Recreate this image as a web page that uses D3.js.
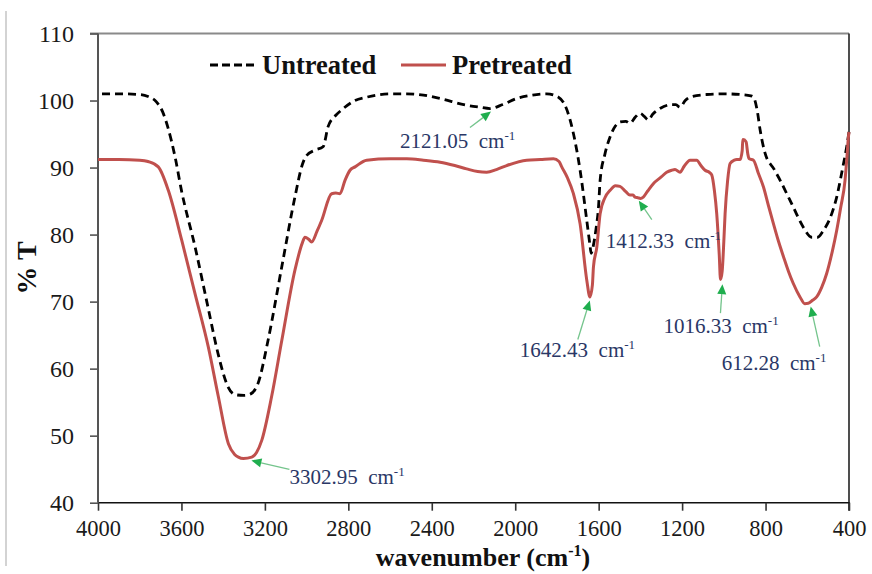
<!DOCTYPE html>
<html>
<head>
<meta charset="utf-8">
<script src="https://cdn.jsdelivr.net/npm/d3@7/dist/d3.min.js"></script>
<style>
  body { margin: 0; background: #fff; }
  svg { display: block; }
</style>
</head>
<body>
<svg id="chart" width="872" height="574"></svg>
<script>
// FTIR spectra: wavenumber (cm-1) and transmittance (% T)
const wnUntreated = [4000,3900,3800,3760,3720,3690,3665,3630,3600,3535,3473,3425,3377,3340,3300,3270,3233,3185,3119,3056,3020,3000,2960,2921,2897,2860,2832,2768,2712,2600,2520,2440,2360,2233,2170,2121,2060,1993,1920,1849,1793,1760,1737,1689,1657,1642,1636,1628,1612,1601,1593,1570,1545,1520,1498,1470,1450,1425,1402,1380,1362,1340,1306,1250,1230,1210,1185,1162,1082,1000,922,870,858,840,826,802,760,730,700,667,619,579,550,523,490,459,430,411,400];
const tUntreated  = [101.0,101.0,100.9,100.6,99.8,98.3,96.0,91.5,86.6,78.2,69.2,62.3,57.3,56.1,56.0,56.2,57.8,64.2,75.2,85.6,90.5,91.8,92.6,93.1,96.1,97.8,98.6,100.0,100.5,101.0,101.0,100.8,100.3,99.3,99.0,98.8,99.4,100.3,100.8,101.0,100.5,99.2,97.1,89.6,82.1,78.5,77.2,78.0,81.0,84.0,88.1,92.0,94.6,96.2,96.8,96.9,96.6,97.5,98.1,97.6,97.1,98.0,98.8,99.4,99.4,99.0,100.0,100.5,100.9,101.0,100.9,100.7,100.5,98.5,95.6,92.1,89.8,88.1,86.2,84.1,81.1,79.6,79.6,80.6,82.5,85.6,90.0,93.1,95.3];

const wnPretreated = [4000,3900,3800,3760,3711,3663,3599,3535,3471,3423,3375,3345,3327,3303,3263,3240,3215,3168,3119,3056,3020,3008,2990,2976,2950,2928,2880,2860,2840,2816,2792,2768,2712,2600,2520,2440,2360,2290,2233,2180,2137,2090,2041,1945,1880,1817,1790,1777,1750,1721,1689,1657,1642,1630,1625,1609,1593,1570,1545,1520,1498,1470,1450,1435,1426,1412,1400,1386,1365,1338,1300,1274,1250,1234,1210,1190,1162,1130,1110,1090,1070,1058,1045,1034,1022,1016,1008,1000,994,982,970,950,938,922,912,909,900,893,885,878,858,835,810,786,762,738,714,690,667,635,612,595,575,555,530,507,480,459,440,419,410,403,400];
const tPretreated  = [91.2,91.2,91.1,90.9,90.1,86.6,79.2,71.2,63.2,55.8,48.8,47.2,46.8,46.6,46.8,47.5,49.3,55.8,64.2,74.7,78.8,79.6,79.3,78.9,80.5,82.1,86.1,86.2,86.1,88.1,89.6,90.1,91.1,91.3,91.3,91.1,90.8,90.3,89.8,89.4,89.3,89.7,90.3,91.1,91.2,91.3,90.9,90.1,88.5,86.1,81.6,73.2,70.7,72.5,75.2,78.1,83.1,85.5,86.6,87.3,87.2,86.4,85.9,85.9,85.6,85.5,85.4,85.6,86.5,87.6,88.6,89.3,89.6,89.7,89.3,90.2,91.1,91.1,90.3,89.6,89.3,88.9,86.5,83.1,77.0,73.3,74.5,79.0,83.1,88.0,90.6,91.1,91.2,91.2,92.5,94.2,94.1,93.8,92.0,91.3,91.1,89.2,87.1,84.3,81.6,79.0,76.7,74.5,72.7,70.7,69.7,69.75,70.2,70.7,72.2,74.2,77.5,80.6,84.0,88.1,91.5,94.5,95.3];

const xTickValues = [4000,3600,3200,2800,2400,2000,1600,1200,800,400];
const yTickValues = [40,50,60,70,80,90,100,110];

// Marked absorption bands and the spectrum each one sits on
const peakWavenumbers = [2121.05, 3302.95, 1642.43, 1412.33, 1016.33, 612.28];
const peakSeries = ["Untreated","Pretreated","Pretreated","Pretreated","Pretreated","Pretreated"];
// Label placement relative to the peak: text offset, arrow tail offset, arrow tip offset
const labelOffsets = [
  {tx:-90, ty:39, ax:-20, ay:19, px:1, py:3},
  {tx:46,  ty:26, ax:46,  ay:11, px:8, py:2},
  {tx:-70, ty:61, ax:-12, ay:43, px:0, py:4},
  {tx:-32, ty:50, ax:14,  ay:22, px:1, py:3},
  {tx:-57, ty:55, ax:0,   ay:35, px:2, py:6},
  {tx:-83, ty:66, ax:15,  ay:43, px:6, py:3}
];

const svg = d3.select("#chart");
const m = {left: 98, right: 849, top: 33.5, bottom: 502.7};

const x = d3.scaleLinear().domain([4000, 400]).range([m.left, m.right]);
const y = d3.scaleLinear().domain([40, 110]).range([m.bottom, m.top]);

const serif = "'Liberation Serif', 'Times New Roman', serif";

// outer chart-area edge
svg.append("line").attr("x1", 6).attr("x2", 6).attr("y1", 11).attr("y2", 566)
  .attr("stroke", "#c4c4c4").attr("stroke-width", 1.5);

// plot frame: top and right edges
svg.append("line").attr("x1", m.left - 8).attr("x2", m.right).attr("y1", m.top).attr("y2", m.top)
  .attr("stroke", "#8a8a8a").attr("stroke-width", 2.2);
svg.append("line").attr("x1", m.right).attr("x2", m.right).attr("y1", m.top).attr("y2", m.bottom)
  .attr("stroke", "#222").attr("stroke-width", 1.6);

// axes
const xAxis = d3.axisBottom(x).tickValues(xTickValues).tickSize(8).tickPadding(9).tickFormat(d3.format("d"));
const yAxis = d3.axisLeft(y).tickValues(yTickValues).tickSize(8).tickPadding(16).tickFormat(d3.format("d"));

const gx = svg.append("g").attr("transform", `translate(0,${m.bottom})`).call(xAxis);
const gy = svg.append("g").attr("transform", `translate(${m.left},0)`).call(yAxis);

gx.select(".domain").attr("d", `M${m.left},0H${m.right}V8`).attr("stroke", "#111").attr("stroke-width", 1.6);
gx.selectAll(".tick line").attr("stroke", "#333").attr("stroke-width", 1.6);
gy.select(".domain").attr("d", `M0,${m.top}V${m.bottom}`).attr("stroke", "#555").attr("stroke-width", 2);
gy.selectAll(".tick line").attr("stroke", "#555").attr("stroke-width", 1.6);
[gx, gy].forEach(g => g.selectAll(".tick text")
  .attr("font-family", serif).attr("font-size", 24).attr("fill", "#1a1a1a"));
gx.selectAll(".tick text").attr("font-size", 22.5).attr("dy", "0.71em");

// axis titles
const xTitle = svg.append("text").attr("x", 483).attr("y", 566).attr("text-anchor", "middle")
  .attr("font-family", serif).attr("font-size", 26).attr("font-weight", "bold").attr("fill", "#111");
xTitle.append("tspan").text("wavenumber (cm");
xTitle.append("tspan").attr("font-size", 16).attr("dy", -10).text("-1");
xTitle.append("tspan").attr("dy", 10).text(")");

svg.append("text").attr("transform", "translate(36,268) rotate(-90)").attr("text-anchor", "middle")
  .attr("font-family", serif).attr("font-size", 28).attr("font-weight", "bold").attr("fill", "#111")
  .text("% T");

// spectra
const untreated = wnUntreated.map((w, i) => [w, tUntreated[i]]);
const pretreated = wnPretreated.map((w, i) => [w, tPretreated[i]]);

const line = d3.line().x(d => x(d[0])).y(d => y(d[1])).curve(d3.curveMonotoneX);
const curveOf = d => d.slice().reverse();

svg.append("path").datum(curveOf(untreated)).attr("d", line)
  .attr("fill", "none").attr("stroke", "#000").attr("stroke-width", 2.8)
  .attr("stroke-dasharray", "8,5");
svg.append("path").datum(curveOf(pretreated)).attr("d", line)
  .attr("fill", "none").attr("stroke", "#c0504d").attr("stroke-width", 3);

// legend
const legend = svg.append("g");
legend.append("line").attr("x1", 210).attr("x2", 256).attr("y1", 65).attr("y2", 65)
  .attr("stroke", "#000").attr("stroke-width", 2.8).attr("stroke-dasharray", "8,4");
legend.append("text").attr("x", 262).attr("y", 74).attr("font-family", serif)
  .attr("font-size", 26.5).attr("font-weight", "bold").attr("fill", "#111").text("Untreated");
legend.append("line").attr("x1", 401).attr("x2", 446).attr("y1", 65).attr("y2", 65)
  .attr("stroke", "#c0504d").attr("stroke-width", 3);
legend.append("text").attr("x", 452).attr("y", 74).attr("font-family", serif)
  .attr("font-size", 26.5).attr("font-weight", "bold").attr("fill", "#111").text("Pretreated");

// peak annotations
function valueAt(series, w) {
  const s = curveOf(series);
  const i = d3.bisector(d => d[0]).left(s, w);
  if (i <= 0) return s[0][1];
  if (i >= s.length) return s[s.length - 1][1];
  const a = s[i - 1], b = s[i];
  return a[1] + (b[1] - a[1]) * (w - a[0]) / (b[0] - a[0]);
}

const ann = svg.append("g");
peakWavenumbers.forEach((w, i) => {
  const series = peakSeries[i] === "Untreated" ? untreated : pretreated;
  const o = labelOffsets[i];
  const cx = x(w), cy = y(valueAt(series, w));
  const tipX = cx + o.px, tipY = cy + o.py;
  const tailX = cx + o.ax, tailY = cy + o.ay;
  const ang = Math.atan2(tipY - tailY, tipX - tailX);
  const hl = 10, hw = 4.5;
  const bx = tipX - hl * Math.cos(ang), by = tipY - hl * Math.sin(ang);
  ann.append("line").attr("x1", tailX).attr("y1", tailY).attr("x2", bx).attr("y2", by)
    .attr("stroke", "#74c48c").attr("stroke-width", 1.3);
  ann.append("path")
    .attr("d", `M${tipX},${tipY}L${bx - hw * Math.sin(ang)},${by + hw * Math.cos(ang)}L${bx + hw * Math.sin(ang)},${by - hw * Math.cos(ang)}Z`)
    .attr("fill", "#1fae4e");
  const t = ann.append("text").attr("x", cx + o.tx).attr("y", cy + o.ty)
    .attr("font-family", serif).attr("font-size", 21).attr("fill", "#2a3766")
    .attr("xml:space", "preserve");
  t.append("tspan").text(w.toFixed(2) + "  cm");
  t.append("tspan").attr("font-size", 13).attr("dy", -8).text("-1");
});
</script>
</body>
</html>
